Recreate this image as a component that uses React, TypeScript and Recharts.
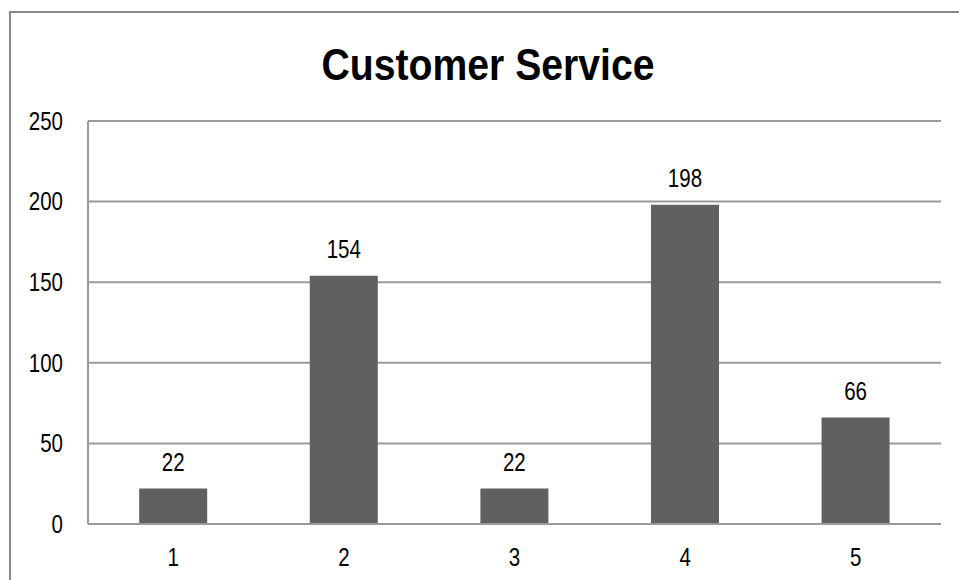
import { BarChart, Bar, XAxis, YAxis, CartesianGrid, LabelList } from 'recharts';

const categories = ['1', '2', '3', '4', '5'];
const values = [22, 154, 22, 198, 66];
const yTicks = [0, 50, 100, 150, 200, 250];

const data = categories.map((name, i) => ({ name, value: values[i] }));

const font = '"Liberation Sans", Arial, sans-serif';
const gray = '#9a9a9a';
const squeeze = 0.82; // text in the source is condensed

// svg text squeezed horizontally around its anchor point
function NarrowText({ x, y, anchor, dy, children }: any) {
  return (
    <text
      x={x}
      y={y}
      dy={dy}
      textAnchor={anchor}
      fill="#000"
      fontSize={25}
      fontFamily={font}
      transform={`translate(${x},0) scale(${squeeze},1) translate(${-x},0)`}
    >
      {children}
    </text>
  );
}

const XTick = (p: any) => (
  <NarrowText x={p.x} y={p.y} anchor="middle" dy="0.71em">
    {p.payload.value}
  </NarrowText>
);

const YTick = (p: any) => (
  <NarrowText x={p.x} y={p.y} anchor="end" dy="0.355em">
    {p.payload.value}
  </NarrowText>
);

const BarLabel = (p: any) => (
  <NarrowText x={p.x + p.width / 2} y={p.y - 18} anchor="middle">
    {p.value}
  </NarrowText>
);

export default function App() {
  return (
    <div
      style={{
        position: 'absolute',
        left: 0,
        top: 0,
        width: 959,
        height: 580,
        overflow: 'hidden',
        background: '#fff',
        fontFamily: font,
      }}
    >
      {/* outer chart frame, cut off at right and bottom */}
      <div
        style={{
          position: 'absolute',
          left: 9,
          top: 11,
          width: 1000,
          height: 700,
          border: '2px solid #888',
          boxSizing: 'border-box',
        }}
      />
      <div
        style={{
          position: 'absolute',
          left: 0,
          top: 40,
          width: 976,
          textAlign: 'center',
          fontWeight: 'bold',
          fontSize: 45,
          lineHeight: '50px',
          color: '#000',
          transform: 'scaleX(0.87)',
        }}
      >
        Customer Service
      </div>
      <BarChart
        width={959}
        height={580}
        data={data}
        margin={{ top: 121, right: 18, bottom: 26, left: 28 }}
        barCategoryGap="30%"
        style={{ position: 'absolute', left: 0, top: 0 }}
      >
        <CartesianGrid vertical={false} stroke={gray} strokeWidth={2} />
        <XAxis
          dataKey="name"
          height={30}
          axisLine={{ stroke: gray, strokeWidth: 2 }}
          tickLine={false}
          tickSize={0}
          tickMargin={24}
          tick={XTick}
        />
        <YAxis
          domain={[0, 250]}
          ticks={yTicks}
          width={60}
          axisLine={{ stroke: gray, strokeWidth: 2 }}
          tickLine={false}
          tickSize={0}
          tickMargin={25}
          tick={YTick}
        />
        <Bar dataKey="value" fill="#606060" isAnimationActive={false}>
          <LabelList dataKey="value" content={BarLabel} />
        </Bar>
      </BarChart>
    </div>
  );
}
